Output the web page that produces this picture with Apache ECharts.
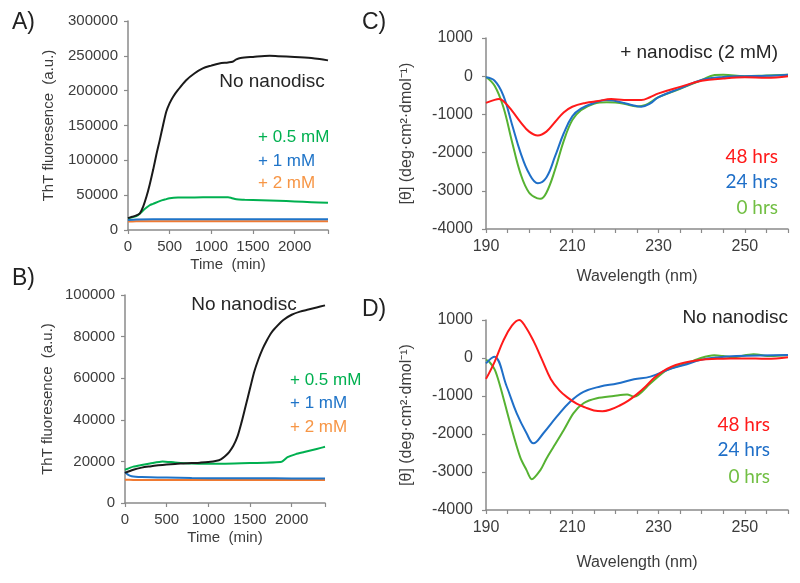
<!DOCTYPE html>
<html>
<head>
<meta charset="utf-8">
<script src="https://cdn.jsdelivr.net/npm/echarts@6/dist/echarts.min.js"></script>
<style>html,body{margin:0;padding:0;background:#fff}#c{width:800px;height:583px}</style>
</head>
<body>
<div id="c"></div>
<script>
// ---------- Panel A (ThT, time in min) ----------
const aBlackT = [0,50,100,143,180,222,260,301,340,381,420,460,500,540,600,698,800,897,1000,1095,1200,1254,1300,1350,1500,1700,1800,2000,2200,2300,2400];
const aBlackV = [17000,19000,21000,24000,33000,48000,65000,86000,108000,129000,150000,170000,182000,191000,201000,215000,225000,232000,236000,239000,240500,241500,245000,247000,248500,250000,249500,248500,247000,245500,243500];
const aGreenT = [0,100,150,200,260,300,380,450,500,600,800,1000,1200,1240,1300,1400,1600,1800,2000,2200,2400];
const aGreenV = [17000,20000,24500,30000,35500,37500,41500,44000,45500,46500,46800,46900,46900,46000,44000,43500,42800,42000,41000,40000,39000];
const aBlueT = [0,100,500,1000,1500,2000,2400];
const aBlueV = [14500,15200,15400,15500,15500,15500,15500];
const aOrangeT = [0,100,500,1000,1500,2000,2400];
const aOrangeV = [12300,12400,12400,12400,12400,12400,12400];

// ---------- Panel B ----------
const bBlackT = [0,100,200,300,400,500,600,700,800,900,1000,1100,1150,1200,1250,1300,1350,1400,1450,1500,1550,1600,1650,1700,1750,1800,1900,2000,2100,2200,2300,2400];
const bBlackV = [14500,16000,17000,17600,18100,18500,18800,19000,19200,19400,19700,20300,21000,22500,24500,27500,32000,39000,47000,55000,63000,69000,74000,78000,81500,84000,88000,90500,92000,93000,94000,95000];
const bGreenT = [0,100,200,300,450,600,800,1000,1200,1500,1880,1950,2050,2150,2250,2350,2400];
const bGreenV = [16000,17500,18300,19000,20000,19500,19000,18900,18900,19200,19800,22000,23500,24500,25500,26500,27000];
const bBlueT = [0,30,80,200,500,800,1200,1600,2000,2400];
const bBlueV = [15000,13800,12900,12500,12200,12000,11900,11900,11800,11800];
const bOrangeT = [0,100,500,1000,1500,2000,2400];
const bOrangeV = [11200,11100,11000,11000,11000,11000,11000];

// ---------- Panel C (+ nanodisc 2 mM, CD) ----------
const cGreenW = [190,192,194,196,198,200,202,202.6,204,206,208,210,212,215,218,220,222,225,227,230,235,240,243,245,250,255,260];
const cGreenV = [-20,-250,-800,-1700,-2550,-3050,-3200,-3210,-3050,-2450,-1700,-1150,-890,-720,-680,-690,-720,-790,-750,-550,-330,-100,30,40,0,20,40];
const cBlueW = [190,192,194,196,198,200,202,204,206,208,210,212,215,218,220,222,224,226,228,230,235,240,245,250,255,260];
const cBlueV = [-30,-120,-500,-1250,-2000,-2550,-2800,-2650,-2100,-1500,-1050,-850,-700,-620,-650,-700,-760,-800,-720,-550,-320,-100,-20,0,10,40];
const cRedW = [190,192,193,194,196,198,200,202,204,206,208,210,213,216,219,222,226,228,230,235,240,245,250,255,260];
const cRedV = [-700,-620,-600,-650,-900,-1200,-1450,-1550,-1450,-1200,-950,-800,-700,-650,-600,-620,-620,-550,-450,-280,-120,-60,-30,-40,0];

// ---------- Panel D (No nanodisc, CD) ----------
const dGreenW = [190,190.6,192,193.3,195.6,197.9,199.4,200.6,202.6,204,205.7,208,210.3,212.6,215.7,219.6,222.7,224.3,228.1,232,236.6,239.8,242.9,245,247,252,256,260];
const dGreenV = [-50,-80,-300,-750,-1720,-2600,-2950,-3190,-2950,-2650,-2330,-1900,-1450,-1190,-1060,-1000,-960,-1020,-670,-315,-140,0,70,50,20,100,50,80];
const dBlueW = [190,191.9,194.8,197.1,199.4,201,203.3,206.4,209.5,212.6,216.5,220.4,224.3,228.1,232,235.9,239.8,243.6,248,260];
const dBlueV = [-140,35,-750,-1450,-1980,-2245,-1980,-1545,-1150,-890,-750,-670,-560,-490,-315,-185,-50,15,50,80];
const dRedW = [190,192,194,196,197.7,199,201,203,205,207,209,211,213,215,217,219,221,223,225,227,229,231,233,235,238,241,245,250,255,260];
const dRedV = [-550,-100,450,850,1000,850,450,-50,-550,-850,-1050,-1200,-1300,-1380,-1400,-1350,-1250,-1120,-950,-750,-520,-350,-230,-150,-80,-30,-20,-10,-20,20];

// ---------- Text ----------
const timeTicks = [0,500,1000,1500,2000];
const wlTicks = [190,210,230,250];
const thtTitle = 'ThT fluoresence  (a.u.)';
const timeTitle = 'Time  (min)';
const cdTitle = '[θ] (deg·cm²·dmol⁻¹)';
const wlTitle = 'Wavelength (nm)';
const concLabels = ['+ 0.5 mM','+ 1 mM','+ 2 mM'];
const hrsLabels = ['48 hrs','24 hrs','0 hrs'];

const zip = (xs, ys) => xs.map((x, i) => [x, ys[i]]);

const AX = '#8a8a8a', TXT = '#3c3c3c';
const SANS = 'Liberation Sans, Arial, sans-serif';
const C_BLACK = '#1a1a1a', C_GREEN = '#00b050', C_BLUE = '#1f74c8', C_ORANGE = '#f07a32';
const C_RED = '#ff1a1a', C_CBLUE = '#1f6fc8', C_CGREEN = '#56b232';
const plain = v => String(v);

function valAxis(grid, opts, fs) {
  return Object.assign({
    type: 'value', gridIndex: grid,
    axisLine: { show: true, onZero: false, lineStyle: { color: AX, width: 1.5 } },
    axisTick: { show: true, length: 4, lineStyle: { color: AX, width: 1.2 } },
    splitLine: { show: false },
    axisLabel: { color: TXT, fontFamily: SANS, fontSize: fs, formatter: plain },
    nameTextStyle: { color: TXT, fontFamily: SANS, fontSize: fs },
    nameLocation: 'middle'
  }, opts);
}
function mergeLabel(ax, extra) { ax.axisLabel = Object.assign({}, ax.axisLabel, extra); return ax; }

const xAxes = [
  mergeLabel(valAxis(0, { min: 0, max: 2400, interval: 500, name: timeTitle, nameGap: 27,
    axisTick: { show: true, length: 4, lineStyle: { color: AX, width: 1.2 }, customValues: timeTicks.concat([2400]) } }, 15),
    { margin: 9, customValues: timeTicks }),
  mergeLabel(valAxis(1, { min: 0, max: 2400, interval: 500, name: timeTitle, nameGap: 27,
    axisTick: { show: true, length: 4, lineStyle: { color: AX, width: 1.2 }, customValues: timeTicks.concat([2400]) } }, 15),
    { margin: 9, customValues: timeTicks }),
  mergeLabel(valAxis(2, { min: 190, max: 260, interval: 5, name: wlTitle, nameGap: 40 }, 16),
    { margin: 10, customValues: wlTicks }),
  mergeLabel(valAxis(3, { min: 190, max: 260, interval: 5, name: wlTitle, nameGap: 45 }, 16),
    { margin: 10, customValues: wlTicks })
];
const yAxes = [
  mergeLabel(valAxis(0, { min: 0, max: 300000, interval: 50000, name: thtTitle, nameGap: 72 }, 15), { margin: 10 }),
  mergeLabel(valAxis(1, { min: 0, max: 100000, interval: 20000, name: thtTitle, nameGap: 70 }, 15), { margin: 10 }),
  mergeLabel(valAxis(2, { min: -4000, max: 1000, interval: 1000, name: cdTitle, nameGap: 71 }, 16), { margin: 13 }),
  mergeLabel(valAxis(3, { min: -4000, max: 1000, interval: 1000, name: cdTitle, nameGap: 71 }, 16), { margin: 13 })
];

function line(idx, data, color, smooth) {
  return { type: 'line', xAxisIndex: idx, yAxisIndex: idx, data: data, showSymbol: false, symbol: 'none',
    smooth: smooth, lineStyle: { color: color, width: 2 }, itemStyle: { color: color }, silent: true, animation: false };
}

const series = [
  line(0, zip(aOrangeT, aOrangeV), C_ORANGE, 0.2),
  line(0, zip(aBlueT, aBlueV), C_BLUE, 0.2),
  line(0, zip(aGreenT, aGreenV), C_GREEN, 0.3),
  line(0, zip(aBlackT, aBlackV), C_BLACK, 0.3),
  line(1, zip(bOrangeT, bOrangeV), C_ORANGE, 0.2),
  line(1, zip(bBlueT, bBlueV), C_BLUE, 0.2),
  line(1, zip(bGreenT, bGreenV), C_GREEN, 0.2),
  line(1, zip(bBlackT, bBlackV), C_BLACK, 0.3),
  line(2, zip(cGreenW, cGreenV), C_CGREEN, 0.4),
  line(2, zip(cBlueW, cBlueV), C_CBLUE, 0.4),
  line(2, zip(cRedW, cRedV), C_RED, 0.4),
  line(3, zip(dGreenW, dGreenV), C_CGREEN, 0.3),
  line(3, zip(dBlueW, dBlueV), C_CBLUE, 0.4),
  line(3, zip(dRedW, dRedV), C_RED, 0.4)
];

function txt(x, y, text, color, size, align, family) {
  return { type: 'text', x: x, y: y, silent: true,
    style: { text: text, fill: color, fontSize: size, fontFamily: family || SANS, align: align || 'left', verticalAlign: 'middle' } };
}
const LATO = 'Lato, Open Sans, sans-serif';
const graphic = [
  txt(12, 23, 'A)', '#222', 23), txt(12, 279, 'B)', '#222', 23),
  txt(362, 23, 'C)', '#222', 23), txt(362, 310, 'D)', '#222', 23),
  txt(272, 82, 'No nanodisc', '#262626', 19, 'center'),
  txt(258, 137, concLabels[0], C_GREEN, 17), txt(258, 161, concLabels[1], C_BLUE, 17), txt(258, 183, concLabels[2], '#f79646', 17),
  txt(244, 305, 'No nanodisc', '#262626', 19, 'center'),
  txt(290, 380, concLabels[0], C_GREEN, 17), txt(290, 403, concLabels[1], C_BLUE, 17), txt(290, 427, concLabels[2], '#f79646', 17),
  txt(778, 53, '+ nanodisc (2 mM)', '#262626', 19, 'right'),
  txt(778, 157, hrsLabels[0], C_RED, 19, 'right', LATO), txt(778, 182, hrsLabels[1], C_CBLUE, 19, 'right', LATO), txt(778, 208, hrsLabels[2], '#72bf44', 19, 'right', LATO),
  txt(788, 318, 'No nanodisc', '#262626', 19, 'right'),
  txt(770, 425, hrsLabels[0], C_RED, 19, 'right', LATO), txt(770, 450, hrsLabels[1], C_CBLUE, 19, 'right', LATO), txt(770, 477, hrsLabels[2], '#72bf44', 19, 'right', LATO)
];

const chart = echarts.init(document.getElementById('c'), null, { renderer: 'canvas' });
chart.setOption({
  backgroundColor: '#fff',
  animation: false,
  grid: [
    { left: 128, top: 21, width: 200, height: 209 },
    { left: 125, top: 295, width: 200, height: 208 },
    { left: 486, top: 38, width: 302, height: 191 },
    { left: 486, top: 320, width: 302, height: 190 }
  ],
  xAxis: xAxes,
  yAxis: yAxes,
  series: series,
  graphic: graphic
});
</script>
</body>
</html>
